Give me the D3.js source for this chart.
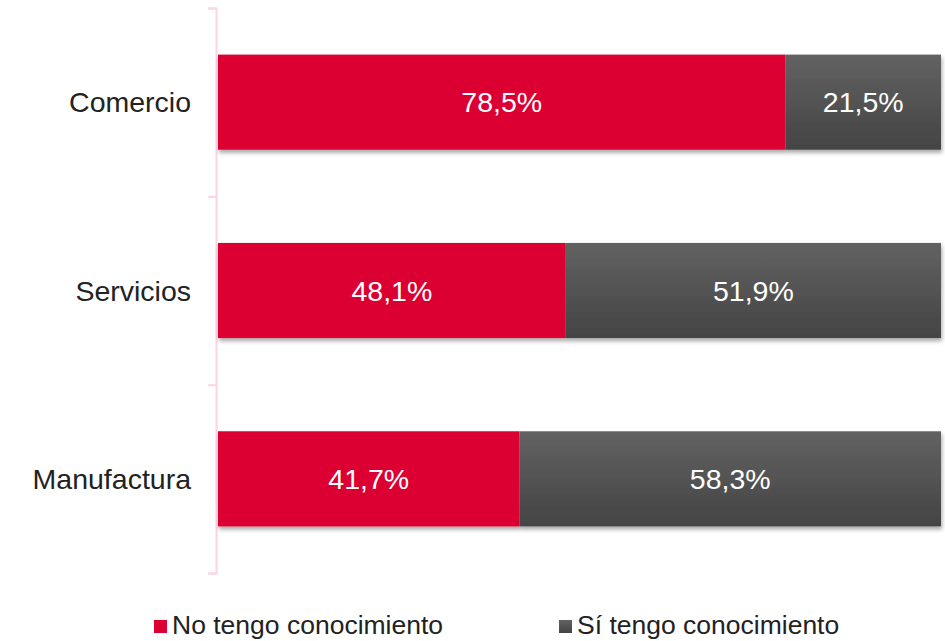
<!DOCTYPE html>
<html>
<head>
<meta charset="utf-8">
<script src="https://cdn.jsdelivr.net/npm/d3@7"></script>
<style>
  body { margin: 0; background: #fff; }
  text { font-family: "Liberation Sans", Arial, sans-serif; }
</style>
</head>
<body>
<div id="chart"></div>
<script>
const categories = ["Comercio", "Servicios", "Manufactura"];
const noConoce = [78.5, 48.1, 41.7];
const siConoce = [21.5, 51.9, 58.3];
const seriesNames = ["No tengo conocimiento", "Sí tengo conocimiento"];

const width = 945, height = 641;
const svg = d3.select("#chart").append("svg").attr("width", width).attr("height", height);

const defs = svg.append("defs");
const grad = defs.append("linearGradient").attr("id", "grayGrad")
  .attr("x1", 0).attr("y1", 0).attr("x2", 0).attr("y2", 1);
grad.append("stop").attr("offset", "0%").attr("stop-color", "#626262");
grad.append("stop").attr("offset", "100%").attr("stop-color", "#444444");
const shadow = defs.append("filter").attr("id", "shadow")
  .attr("x", "-5%").attr("y", "-10%").attr("width", "110%").attr("height", "130%");
shadow.append("feDropShadow").attr("dx", 1).attr("dy", 3).attr("stdDeviation", 2)
  .attr("flood-color", "#000").attr("flood-opacity", 0.35);

const x = d3.scaleLinear().domain([0, 100]).range([218, 941]);
const y = d3.scaleBand().domain(categories).range([8, 573]).paddingInner(0.495).paddingOuter(0.2475);

// axis line with ticks at band boundaries
const axisY = d3.scaleLinear().domain([0, categories.length]).range([8, 573]);
const axis = svg.append("g").attr("transform", "translate(216,0)")
  .call(d3.axisLeft(axisY).ticks(3).tickSize(8).tickFormat(""));
axis.select(".domain").attr("stroke", "#fdd5e0").attr("stroke-width", 2);
axis.selectAll(".tick line").attr("stroke", "#fdd5e0").attr("stroke-width", 2);

const data = categories.map((c, i) => ({ cat: c, no: noConoce[i], si: siConoce[i] }));
const fmt = v => v.toFixed(1).replace(".", ",") + "%";

const rows = svg.append("g").selectAll("g").data(data).join("g");

rows.append("g").attr("filter", "url(#shadow)").call(g => {
  g.append("rect")
    .attr("x", x(0)).attr("y", d => y(d.cat))
    .attr("width", d => x(d.no) - x(0)).attr("height", y.bandwidth())
    .attr("fill", "#dc0032");
  g.append("rect")
    .attr("x", d => x(d.no)).attr("y", d => y(d.cat))
    .attr("width", d => x(d.no + d.si) - x(d.no)).attr("height", y.bandwidth())
    .attr("fill", "url(#grayGrad)");
});

rows.append("text")
  .attr("x", d => (x(0) + x(d.no)) / 2)
  .attr("y", d => y(d.cat) + y.bandwidth() / 2 + 10)
  .attr("text-anchor", "middle").attr("fill", "#fff").attr("font-size", 28.5)
  .text(d => fmt(d.no));
rows.append("text")
  .attr("x", d => (x(d.no) + x(d.no + d.si)) / 2)
  .attr("y", d => y(d.cat) + y.bandwidth() / 2 + 10)
  .attr("text-anchor", "middle").attr("fill", "#fff").attr("font-size", 28.5)
  .text(d => fmt(d.si));

rows.append("text")
  .attr("x", 191)
  .attr("y", d => y(d.cat) + y.bandwidth() / 2 + 10)
  .attr("text-anchor", "end").attr("fill", "#222").attr("font-size", 28.5)
  .text(d => d.cat);

// legend
const legendX = [154, 559];
const legendFill = ["#dc0032", "url(#grayGrad)"];
const legend = svg.append("g").selectAll("g").data(seriesNames).join("g")
  .attr("transform", (d, i) => `translate(${legendX[i]},620)`);
legend.append("rect").attr("width", 13).attr("height", 13).attr("fill", (d, i) => legendFill[i]);
legend.append("text").attr("x", 18).attr("y", 14).attr("font-size", 26.5).attr("fill", "#222")
  .text(d => d);
</script>
</body>
</html>
